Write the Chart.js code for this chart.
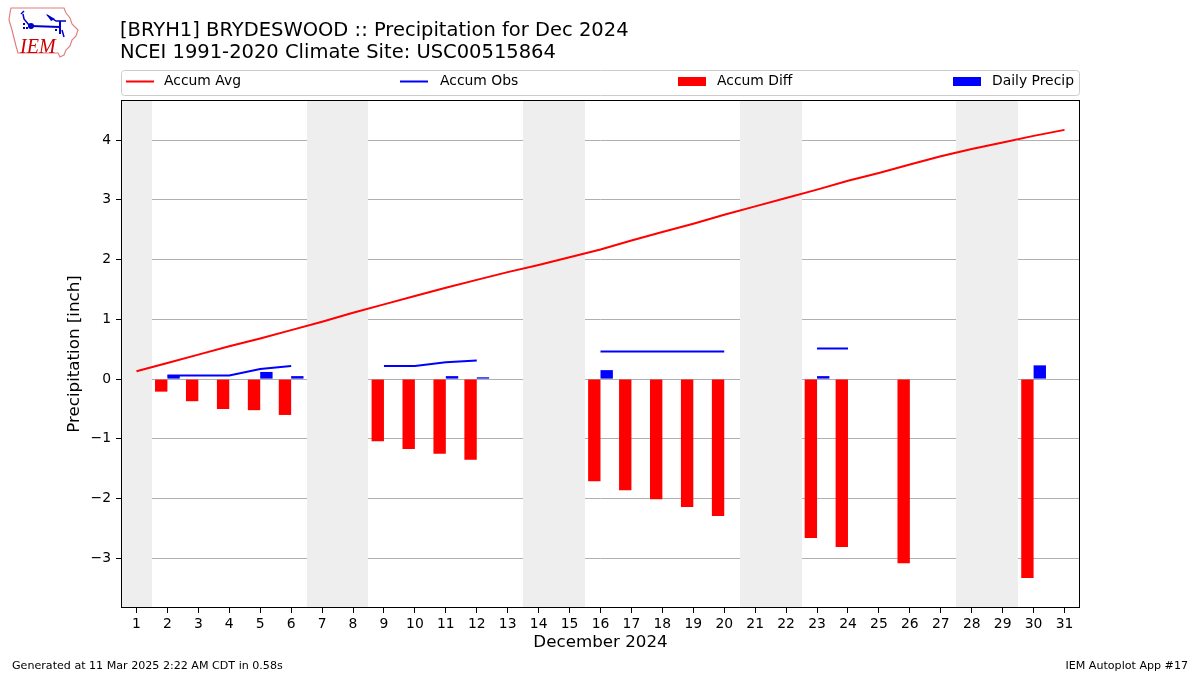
<!DOCTYPE html>
<html><head><meta charset="utf-8">
<script src="https://cdn.jsdelivr.net/npm/chart.js@4/dist/chart.umd.min.js"></script>
<style>html,body{margin:0;padding:0;background:#fff}#wrap{width:1200px;height:675px;position:relative}canvas{display:block}</style>
</head><body><div id="wrap"><canvas id="c" width="1200" height="675" style="width:1200px;height:675px"></canvas></div>
<script>
// ---- data ----
const days = [1,2,3,4,5,6,7,8,9,10,11,12,13,14,15,16,17,18,19,20,21,22,23,24,25,26,27,28,29,30,31];
const accumAvg = [0.13,0.27,0.41,0.55,0.68,0.82,0.96,1.11,1.25,1.39,1.53,1.66,1.79,1.91,2.04,2.17,2.32,2.46,2.60,2.75,2.89,3.03,3.17,3.32,3.45,3.59,3.73,3.85,3.96,4.07,4.17];
const accumObs = [null,0.06,0.06,0.06,0.17,0.22,null,null,0.22,0.22,0.28,0.31,null,null,null,0.46,0.46,0.46,0.46,0.46,null,null,0.51,0.51,null,0.51,null,null,null,0.74,null];
const accumDiff = [null,-0.21,-0.37,-0.50,-0.52,-0.60,null,null,-1.04,-1.17,-1.25,-1.35,null,null,null,-1.71,-1.86,-2.01,-2.14,-2.29,null,null,-2.66,-2.81,null,-3.08,null,null,null,-3.33,null];
const dailyPrecip = [null,0.06,null,null,0.12,0.05,null,null,null,null,0.05,0.03,null,null,null,0.15,null,null,null,null,null,null,0.05,null,null,null,null,null,null,0.23,null];
const weekendDays = [1,7,8,14,15,21,22,28,29];
const yTicks = [-3,-2,-1,0,1,2,3,4];
const xTicks = days;
const titleLines = ["[BRYH1] BRYDESWOOD :: Precipitation for Dec 2024","NCEI 1991-2020 Climate Site: USC00515864"];
const seriesNames = ["Accum Avg","Accum Obs","Accum Diff","Daily Precip"];

const FONT = "'DejaVu Sans', sans-serif";
const pts = arr => days.map((d,i)=>({x:d,y:arr[i]}));

const bgPlugin = {
  id:'bg',
  beforeDatasetsDraw(chart){
    const {ctx, chartArea:a, scales:{x}} = chart;
    // merge consecutive weekend days into runs
    const runs = [];
    weekendDays.forEach(d=>{
      const last = runs[runs.length-1];
      if(last && last[1] === d-1) last[1] = d; else runs.push([d,d]);
    });
    ctx.save();
    ctx.fillStyle = '#eeeeee';
    runs.forEach(([s,e])=>{
      const l = Math.round(Math.max(a.left, x.getPixelForValue(s-0.5)));
      const r = Math.round(Math.min(a.right, x.getPixelForValue(e+0.5)));
      ctx.fillRect(l, a.top, r-l, a.bottom-a.top);
    });
    ctx.restore();
  }
};

function drawLogo(ctx){
  ctx.save();
  ctx.strokeStyle = '#e08080'; ctx.lineWidth = 1.2;
  ctx.beginPath();
  ctx.moveTo(11,8); ctx.lineTo(64,8); ctx.lineTo(66,13); ctx.lineTo(70,18); ctx.lineTo(72,24);
  ctx.lineTo(78,30); ctx.lineTo(76,36); ctx.lineTo(72,40); ctx.lineTo(70,46); ctx.lineTo(66,50);
  ctx.lineTo(64,55); ctx.lineTo(60,57); ctx.lineTo(58,53); ctx.lineTo(18,53); ctx.lineTo(16,46);
  ctx.lineTo(14,38); ctx.lineTo(12,30); ctx.lineTo(9,20); ctx.lineTo(10,13); ctx.closePath();
  ctx.stroke();
  ctx.strokeStyle = '#0000cc'; ctx.fillStyle='#0000cc'; ctx.lineWidth=2;
  ctx.beginPath(); ctx.moveTo(31,26); ctx.lineTo(60,27); ctx.stroke();
  ctx.beginPath(); ctx.arc(31,26,3,0,Math.PI*2); ctx.fill();
  ctx.lineWidth=1.5;
  ctx.beginPath(); ctx.moveTo(29,25); ctx.lineTo(24,19); ctx.lineTo(23,14); ctx.stroke();
  ctx.beginPath(); ctx.moveTo(21,14); ctx.lineTo(24,11); ctx.stroke();
  ctx.beginPath(); ctx.moveTo(47,15); ctx.lineTo(56,21); ctx.lineTo(66,21); ctx.stroke();
  ctx.beginPath(); ctx.moveTo(46,14); ctx.lineTo(55,19); ctx.lineTo(51,21); ctx.closePath(); ctx.fill();
  ctx.lineWidth=2;
  ctx.beginPath(); ctx.moveTo(60,21); ctx.lineTo(60,34); ctx.stroke();
  ctx.lineWidth=1.5;
  ctx.beginPath(); ctx.moveTo(62,30); ctx.lineTo(64,37); ctx.stroke();
  ctx.fillRect(23,23,2,2); ctx.fillRect(23,27,2,2); ctx.fillRect(26,27,2,2);
  ctx.fillRect(55,29,2,2);
  ctx.fillStyle = '#cc0000';
  ctx.font = "italic 20px 'Liberation Serif', serif";
  ctx.textBaseline='alphabetic'; ctx.textAlign='left';
  ctx.fillText('IEM', 20, 53);
  ctx.restore();
}

const textPlugin = {
  id:'texts',
  afterDraw(chart){
    const {ctx, chartArea:a} = chart;
    ctx.save();
    ctx.strokeStyle = '#000'; ctx.lineWidth = 1;
    ctx.strokeRect(a.left+0.5, a.top+0.5, a.right-a.left-1, a.bottom-a.top-1);
    ctx.fillStyle = '#000';
    ctx.textBaseline = 'alphabetic'; ctx.textAlign='left';
    ctx.font = `19.5px ${FONT}`;
    ctx.fillText(titleLines[0], 120, 36);
    ctx.fillText(titleLines[1], 120, 58);
    ctx.font = `16.7px ${FONT}`;
    ctx.textAlign='center'; ctx.textBaseline='middle';
    ctx.fillText('December 2024', (a.left+a.right)/2, 643);
    ctx.save();
    ctx.translate(75, (a.top+a.bottom)/2);
    ctx.rotate(-Math.PI/2);
    ctx.fillText('Precipitation [inch]', 0, 0);
    ctx.restore();
    const lx=121, ly=70, lw=959, lh=25;
    ctx.beginPath();
    ctx.roundRect(lx+0.5, ly+0.5, lw-1, lh, 3);
    ctx.fillStyle='rgba(255,255,255,0.8)'; ctx.fill();
    ctx.strokeStyle='#cccccc'; ctx.lineWidth=1; ctx.stroke();
    const cy = 81.5;
    ctx.font = `13.9px ${FONT}`; ctx.textAlign='left'; ctx.textBaseline='middle';
    const handles = [[126,'line','#ff0000'],[400,'line','#0000ff'],[678,'patch','#ff0000'],[953,'patch','#0000ff']];
    const textX = [164,440,717,992];
    handles.forEach((h,i)=>{
      if(h[1]==='line'){
        ctx.strokeStyle=h[2]; ctx.lineWidth=2;
        ctx.beginPath(); ctx.moveTo(h[0],cy); ctx.lineTo(h[0]+28,cy); ctx.stroke();
      } else {
        ctx.fillStyle=h[2]; ctx.fillRect(h[0],77,28,9);
      }
      ctx.fillStyle='#000';
      ctx.fillText(seriesNames[i], textX[i], cy);
    });
    ctx.font = `11.1px ${FONT}`; ctx.textBaseline='middle';
    ctx.textAlign='left'; ctx.fillText('Generated at 11 Mar 2025 2:22 AM CDT in 0.58s', 12, 666);
    ctx.textAlign='right'; ctx.fillText('IEM Autoplot App #17', 1188, 666);
    drawLogo(ctx);
    ctx.restore();
  }
};

Chart.defaults.font.family = FONT;
Chart.defaults.color = '#000';

new Chart(document.getElementById('c'), {
  type:'bar',
  data:{
    datasets:[
      {type:'line', label:seriesNames[0], data:pts(accumAvg), borderColor:'#ff0000', borderWidth:2, pointRadius:0, tension:0, order:1},
      {type:'line', label:seriesNames[1], data:pts(accumObs), borderColor:'#0000ff', borderWidth:2, pointRadius:0, tension:0, spanGaps:false, order:0},
      {type:'bar', label:seriesNames[2], data:pts(accumDiff), backgroundColor:'#ff0000', categoryPercentage:0.8, barPercentage:1.0, order:2},
      {type:'bar', label:seriesNames[3], data:pts(dailyPrecip), backgroundColor:'#0000ff', categoryPercentage:0.8, barPercentage:1.0, order:3}
    ]
  },
  options:{
    responsive:false, animation:false, devicePixelRatio:1,
    layout:{padding:{top:100, right:120, left:0, bottom:0}},
    plugins:{legend:{display:false}, tooltip:{enabled:false}, title:{display:false}},
    scales:{
      x:{
        type:'linear', min:0.5, max:31.5, offset:false,
        grid:{display:true, drawOnChartArea:false, offset:false, tickLength:5, tickColor:'#000', color:'#000'},
        border:{display:false},
        ticks:{font:{size:13.9, family:FONT}, color:'#000', padding:3, maxRotation:0, autoSkip:false},
        afterBuildTicks(s){ s.ticks = xTicks.map(v=>({value:v})); },
        afterFit(s){ s.height = 67; }
      },
      y:{
        type:'linear', min:-3.83, max:4.67,
        grid:{display:true, drawOnChartArea:true, tickLength:5, tickColor:'#000', color:'#b0b0b0', lineWidth:1},
        border:{display:false},
        ticks:{font:{size:13.9, family:FONT}, color:'#000', padding:5,
          callback:v=> (v<0? '\u2212'+Math.abs(v) : String(v))},
        afterBuildTicks(s){ s.ticks = yTicks.map(v=>({value:v})); },
        afterFit(s){ s.width = 121; }
      }
    }
  },
  plugins:[bgPlugin, textPlugin]
});
</script>
</body></html>
